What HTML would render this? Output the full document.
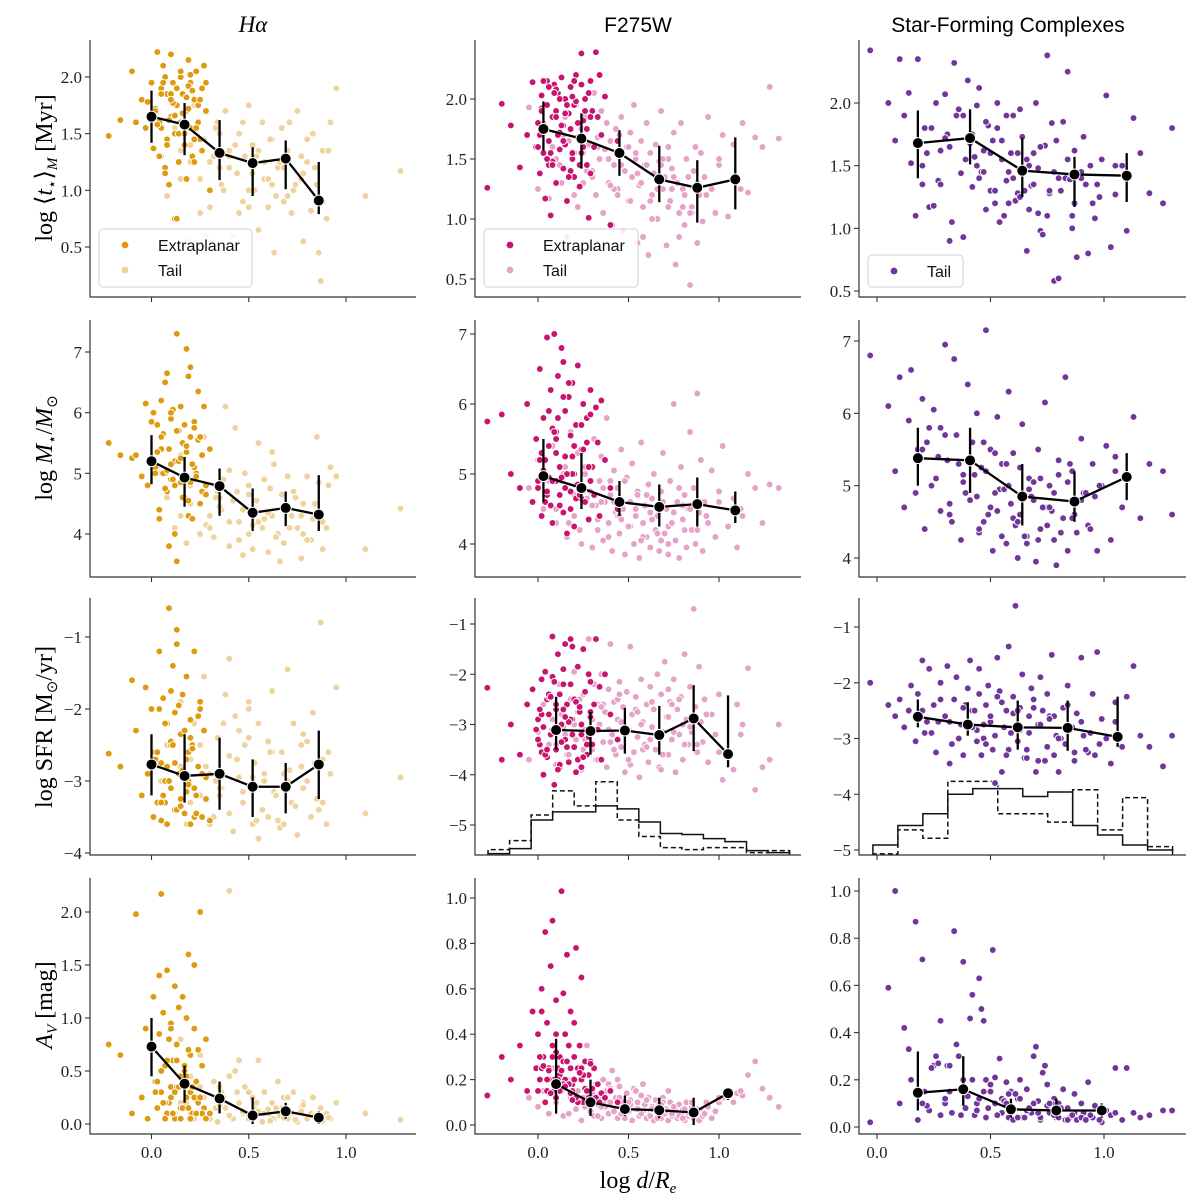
<!DOCTYPE html>
<html><head><meta charset="utf-8"><style>
body{margin:0;background:#fff}
svg{display:block}
.tk{font-family:"Liberation Serif",serif;font-size:17px;fill:#222}
.lg{font-family:"Liberation Sans",sans-serif;font-size:16px;fill:#111}
</style></head><body>
<svg id="fig" width="1200" height="1200" viewBox="0 0 1200 1200" xmlns="http://www.w3.org/2000/svg">
<text x="253" y="32" text-anchor="middle" font-family="Liberation Serif,serif" font-size="23" font-style="italic">Hα</text>
<text x="638" y="32" text-anchor="middle" font-family="Liberation Sans,sans-serif" font-size="21">F275W</text>
<text x="1008" y="32" text-anchor="middle" font-family="Liberation Sans,sans-serif" font-size="21">Star-Forming Complexes</text>
<text transform="translate(52,168) rotate(-90)" text-anchor="middle" font-family="Liberation Serif,serif" font-size="24">log ⟨<tspan font-style="italic">t</tspan><tspan font-size="15" dy="5">⋆</tspan><tspan dy="-5">⟩</tspan><tspan font-size="15" dy="5" font-style="italic">M</tspan><tspan dy="-5"> [Myr]</tspan></text>
<text transform="translate(52,448) rotate(-90)" text-anchor="middle" font-family="Liberation Serif,serif" font-size="24">log <tspan font-style="italic">M</tspan><tspan font-size="15" dy="5">⋆</tspan><tspan dy="-5">/</tspan><tspan font-style="italic">M</tspan><tspan font-size="15" dy="5">⊙</tspan></text>
<text transform="translate(52,727) rotate(-90)" text-anchor="middle" font-family="Liberation Serif,serif" font-size="24">log SFR [M<tspan font-size="15" dy="5">⊙</tspan><tspan dy="-5">/yr]</tspan></text>
<text transform="translate(52,1005) rotate(-90)" text-anchor="middle" font-family="Liberation Serif,serif" font-size="24"><tspan font-style="italic">A</tspan><tspan font-size="15" dy="5" font-style="italic">V</tspan><tspan dy="-5"> [mag]</tspan></text>
<text x="638" y="1188" text-anchor="middle" font-family="Liberation Serif,serif" font-size="24">log <tspan font-style="italic">d</tspan>/<tspan font-style="italic">R</tspan><tspan font-size="15" dy="5" font-style="italic">e</tspan></text>
</svg>
<script>
// ---- data: column 1 (Halpha) ----
const c1ExtX=[-0.22,-0.16,-0.1,-0.08,-0.05,-0.03,-0.02,0.0,0.01,0.02,0.03,0.04,0.05,0.05,0.06,0.07,0.08,0.08,0.09,0.1,0.1,0.11,0.12,0.12,0.13,0.14,0.15,0.15,0.16,0.17,0.18,0.18,0.19,0.2,0.2,0.21,0.22,0.23,0.24,0.25,0.26,0.27,0.28,0.3,0.04,0.07,0.13,0.19,0.22,0.1];
const c1ExtR1=[1.48,1.62,2.05,1.6,1.8,1.55,1.78,1.95,1.37,1.72,2.22,1.3,1.9,1.55,2.1,1.2,1.85,1.45,1.05,2.2,1.65,1.95,0.75,1.5,1.75,1.25,2.0,1.6,1.85,1.4,1.1,1.7,2.15,1.55,1.95,1.3,1.8,2.05,1.6,1.45,1.9,2.1,1.7,1.0,1.6,1.15,0.75,1.92,1.25,1.85];
const c1ExtR2=[5.5,5.3,5.25,5.3,4.95,6.15,4.8,5.85,6.0,5.1,5.8,4.25,6.2,5.4,5.65,6.5,4.7,6.65,3.8,5.9,4.9,6.05,4.0,5.2,7.3,5.7,4.85,6.1,5.5,4.6,5.35,7.05,4.3,5.6,6.75,4.25,5.85,5.0,6.35,4.5,5.3,6.1,4.8,5.4,4.4,5.0,3.55,6.6,5.75,5.15];
const c1ExtR3=[-2.62,-2.8,-1.6,-2.3,-3.2,-1.7,-2.9,-2.0,-3.5,-2.6,-3.3,-1.2,-2.75,-3.55,-1.85,-3.0,-2.2,-3.6,-0.6,-2.5,-3.1,-1.4,-3.4,-2.05,-1.1,-2.9,-3.25,-2.35,-1.8,-3.45,-2.7,-1.55,-3.0,-2.15,-3.6,-2.5,-1.2,-3.2,-2.8,-1.9,-3.5,-2.3,-2.95,-3.55,-2.0,-3.3,-0.9,-2.6,-3.1,-2.45];
const c1ExtR4=[0.75,0.65,0.1,1.98,0.25,0.9,0.05,0.7,1.2,0.4,0.15,0.85,2.17,0.3,1.05,0.55,0.1,1.45,0.2,0.95,0.35,0.6,1.3,0.05,0.75,1.1,0.45,0.15,1.2,0.5,0.25,1.0,1.6,0.3,0.65,0.1,0.9,0.4,0.2,2.0,0.55,0.15,0.8,0.1,1.4,0.05,0.35,0.7,1.5,0.25];
const c1ExtX2=[0.02,0.05,0.07,0.09,0.11,0.13,0.14,0.16,0.18,0.2,0.22,0.24,0.26,0.03,0.06,0.1,0.12,0.15,0.17,0.19,0.21,0.23,0.25,0.08,0.28];
const c1ExtR1_2=[1.7,1.85,2.0,1.62,1.77,1.9,1.5,1.68,1.82,2.02,1.45,1.75,1.35,1.58,1.95,1.8,1.66,2.05,1.5,1.72,1.88,1.55,1.8,1.4,1.95];
const c1ExtR2_2=[5.0,5.6,4.75,5.4,4.9,5.7,5.2,4.6,5.45,4.85,5.1,5.55,4.7,5.35,5.0,6.0,4.8,5.25,5.8,4.55,5.15,4.95,5.6,5.05,4.65];
const c1ExtR3_2=[-2.7,-3.3,-2.2,-3.0,-2.5,-3.4,-1.95,-2.85,-3.15,-2.4,-3.5,-2.1,-2.9,-2.6,-3.2,-1.75,-2.75,-3.35,-2.3,-3.05,-2.55,-3.45,-2.0,-2.8,-3.25];
const c1ExtR4_2=[0.3,0.5,0.2,0.8,0.1,0.6,0.35,0.15,0.45,0.05,0.25,0.7,0.1,0.4,0.2,0.9,0.3,0.05,0.55,0.15,0.35,0.1,0.25,0.6,0.05];
const c1TailX=[0.05,0.08,0.12,0.15,0.18,0.2,0.22,0.25,0.27,0.3,0.32,0.34,0.36,0.38,0.4,0.42,0.43,0.45,0.47,0.48,0.5,0.52,0.53,0.55,0.57,0.58,0.6,0.62,0.63,0.65,0.67,0.68,0.7,0.72,0.73,0.75,0.77,0.78,0.8,0.82,0.83,0.85,0.87,0.88,0.9,0.92,0.95,1.1,1.28,0.28,0.35,0.45,0.55,0.62,0.7,0.78,0.86,0.4,0.5,0.66];
const c1TailR1=[1.3,0.95,1.55,1.35,0.55,1.25,1.75,1.1,1.45,0.85,1.3,1.6,1.05,1.7,1.2,0.6,1.4,1.5,0.9,1.3,1.75,1.15,1.0,0.65,1.6,1.25,0.85,1.45,0.45,1.2,1.55,0.9,1.35,0.8,1.0,1.7,1.1,0.55,1.25,0.82,1.5,1.05,0.2,1.35,0.75,1.6,1.9,0.95,1.17,0.6,1.2,0.8,1.35,1.05,0.95,1.15,0.45,1.3,1.0,1.25];
const c1TailR2=[5.0,4.6,4.1,5.3,3.85,4.5,4.9,4.0,5.6,4.3,3.95,4.7,4.4,6.1,3.8,4.55,5.75,4.2,3.65,5.0,4.8,3.75,4.4,5.5,4.1,4.9,3.7,4.3,5.15,4.0,4.65,3.85,4.95,4.3,4.7,4.1,3.6,4.5,4.95,3.9,4.25,5.6,4.35,3.75,4.1,5.1,4.95,3.75,4.42,4.15,4.6,3.9,4.2,5.35,4.45,4.0,4.85,5.05,4.65,3.55];
const c1TailR3=[-3.0,-2.5,-3.4,-1.9,-3.6,-2.7,-2.2,-3.2,-1.55,-2.9,-3.5,-2.4,-3.1,-1.8,-2.65,-3.7,-2.1,-2.95,-3.3,-2.5,-1.9,-3.6,-2.75,-2.2,-3.4,-3.0,-2.45,-1.75,-3.15,-3.55,-2.6,-2.9,-1.45,-3.3,-2.2,-3.75,-2.8,-3.1,-2.45,-3.5,-2.05,-3.25,-0.8,-2.7,-3.6,-2.9,-1.7,-3.45,-2.95,-2.8,-3.2,-2.3,-3.8,-2.6,-3.0,-2.35,-3.4,-1.3,-2.0,-3.65];
const c1TailR4=[0.3,0.55,0.1,0.8,0.2,0.45,0.05,0.65,0.25,0.1,0.4,0.02,0.3,0.15,2.2,0.05,0.5,0.2,0.1,0.35,0.05,0.25,0.15,0.6,0.02,0.3,0.1,0.2,0.05,0.4,0.15,0.25,0.05,0.1,0.3,0.02,0.15,0.2,0.05,0.1,0.25,0.08,0.15,0.02,0.1,0.05,0.2,0.1,0.04,0.8,0.35,0.6,0.12,0.05,0.25,0.18,0.07,0.45,0.3,0.08];
const c1TailX2=[0.15,0.2,0.25,0.3,0.33,0.37,0.4,0.44,0.47,0.5,0.54,0.58,0.61,0.64,0.68,0.71,0.74,0.77,0.8,0.84,0.88,0.91,0.35,0.52,0.6];
const c1TailR1_2=[1.1,1.4,0.8,1.25,1.55,1.0,1.35,1.15,1.6,0.85,1.3,1.1,1.45,0.95,1.2,1.6,1.05,1.3,1.45,1.2,0.9,1.35,1.5,1.4,1.1];
const c1TailR2_2=[4.3,4.8,4.5,4.1,4.6,4.9,4.2,4.7,4.4,4.0,4.55,4.25,4.75,3.95,4.4,4.1,4.6,4.3,3.9,4.5,4.2,4.8,4.45,4.15,4.35];
const c1TailR3_2=[-2.8,-3.3,-2.5,-3.6,-3.0,-2.2,-3.45,-2.7,-3.15,-2.4,-3.55,-2.9,-2.6,-3.2,-3.6,-2.85,-3.35,-2.5,-3.0,-2.75,-3.3,-2.6,-3.1,-2.95,-3.5];
const c1TailR4_2=[0.2,0.1,0.35,0.05,0.15,0.25,0.08,0.3,0.12,0.05,0.2,0.1,0.03,0.15,0.06,0.1,0.04,0.12,0.05,0.08,0.03,0.06,0.18,0.1,0.14];
// ---- data: column 2 (F275W) ----
const c2ExtX=[-0.28,-0.2,-0.15,-0.1,-0.06,-0.03,-0.01,0.0,0.01,0.02,0.03,0.04,0.05,0.05,0.06,0.07,0.08,0.08,0.09,0.1,0.1,0.11,0.12,0.12,0.13,0.14,0.15,0.15,0.16,0.17,0.18,0.18,0.19,0.2,0.2,0.21,0.22,0.23,0.24,0.25,0.26,0.27,0.28,0.29,0.3,0.31,0.32,0.33,0.34,0.35,0.37,0.4,0.44,0.02,0.06,0.1,0.14,0.19,0.24,0.29];
const c2ExtR1=[1.26,1.96,1.78,1.43,1.7,2.14,1.6,1.8,1.38,2.03,1.55,1.17,2.15,1.95,1.65,1.03,1.85,1.48,2.12,1.9,1.3,2.05,1.72,1.58,2.18,1.42,2.0,1.62,1.15,1.88,2.1,1.75,1.5,1.95,1.35,2.2,1.68,1.27,2.38,1.82,2.0,1.45,1.01,2.15,1.9,1.6,2.39,1.85,2.2,1.7,2.02,0.95,1.65,1.92,1.45,2.08,1.78,1.55,2.12,1.38];
const c2ExtR2=[5.75,5.85,5.0,4.8,6.0,4.6,5.5,4.9,6.5,4.4,5.8,5.2,6.95,4.7,5.4,6.2,4.3,5.65,7.0,4.9,5.3,6.4,4.55,5.1,6.8,4.45,5.9,5.25,4.15,6.1,5.55,4.75,6.3,5.0,4.25,5.7,6.55,4.85,5.35,6.0,4.6,5.8,4.35,6.2,5.1,4.7,5.95,5.45,4.4,6.05,5.2,4.8,4.5,5.3,4.95,5.6,6.6,5.0,4.65,5.85];
const c2ExtR3=[-2.27,-3.7,-3.0,-3.6,-2.6,-2.3,-3.1,-2.9,-3.4,-2.1,-4.0,-1.95,-2.5,-3.65,-2.8,-3.2,-1.25,-2.05,-4.2,-2.7,-3.5,-1.6,-3.85,-2.4,-3.0,-1.9,-3.3,-1.4,-2.6,-3.75,-2.2,-1.3,-2.9,-3.45,-2.5,-3.95,-1.85,-2.75,-3.2,-1.5,-2.35,-3.6,-2.0,-2.85,-3.4,-2.6,-1.3,-3.1,-2.25,-3.7,-2.0,-2.8,-3.3,-3.55,-2.45,-3.05,-2.7,-1.45,-3.85,-2.15];
const c2ExtR4=[0.13,0.3,0.2,0.35,0.15,0.5,0.25,0.4,0.2,0.6,0.3,0.85,0.15,0.45,0.25,0.7,0.35,0.9,0.2,0.4,0.55,0.25,0.3,0.15,1.03,0.28,0.4,0.2,0.75,0.35,0.5,0.25,0.15,0.45,0.3,0.78,0.25,0.35,0.2,0.1,0.28,0.15,0.22,0.28,0.16,0.25,0.12,0.18,0.1,0.14,0.12,0.15,0.1,0.5,0.24,0.32,0.58,0.18,0.65,0.27];
const c2ExtX2=[0.0,0.02,0.04,0.06,0.08,0.1,0.12,0.14,0.16,0.18,0.2,0.22,0.24,0.26,0.28,0.01,0.05,0.09,0.13,0.17,0.21,0.25,0.29,0.03,0.07,0.11,0.15,0.19,0.23,0.27];
const c2ExtR1_2=[1.6,1.9,1.75,2.1,1.45,1.85,2.0,1.65,1.95,1.4,2.15,1.8,1.55,1.9,2.05,1.7,1.5,2.05,1.78,1.35,1.98,1.6,1.85,2.15,1.55,1.7,1.88,2.02,1.45,1.75];
const c2ExtR2_2=[4.8,5.3,4.6,5.9,4.9,5.5,4.7,6.1,5.0,4.5,5.4,4.85,5.7,4.6,5.1,5.2,4.75,5.6,4.95,6.3,4.65,5.35,4.9,5.05,4.55,5.8,4.8,5.25,4.7,5.45];
const c2ExtR3_2=[-3.3,-2.8,-3.6,-2.4,-3.1,-2.6,-3.8,-2.2,-3.45,-2.9,-2.5,-3.7,-3.0,-2.35,-3.25,-2.7,-3.5,-2.15,-3.35,-2.95,-2.55,-3.65,-2.75,-3.05,-2.45,-3.9,-2.85,-3.2,-2.65,-3.4];
const c2ExtR4_2=[0.15,0.25,0.1,0.2,0.3,0.12,0.22,0.18,0.28,0.14,0.2,0.1,0.25,0.16,0.12,0.3,0.2,0.15,0.24,0.18,0.12,0.22,0.1,0.26,0.14,0.2,0.17,0.11,0.23,0.15];
const c2TailX=[-0.05,0.0,0.03,0.06,0.08,0.1,0.12,0.14,0.16,0.18,0.2,0.21,0.22,0.24,0.25,0.26,0.28,0.29,0.3,0.31,0.32,0.33,0.34,0.35,0.36,0.37,0.38,0.39,0.4,0.41,0.42,0.43,0.44,0.45,0.46,0.47,0.48,0.49,0.5,0.51,0.52,0.53,0.54,0.55,0.56,0.57,0.58,0.59,0.6,0.61,0.62,0.63,0.64,0.65,0.66,0.67,0.68,0.69,0.7,0.71,0.72,0.73,0.74,0.75,0.76,0.77,0.78,0.79,0.8,0.81,0.82,0.83,0.84,0.85,0.86,0.87,0.88,0.89,0.9,0.91,0.92,0.94,0.96,0.98,1.0,1.02,1.05,1.08,1.1,1.13,1.16,1.2,1.24,1.28,1.33,0.27,0.44,0.58,0.72,0.85];
const c2TailR1=[1.93,1.25,1.8,1.17,1.6,1.9,1.45,1.7,0.85,1.35,1.55,1.95,1.1,1.75,1.3,1.85,1.62,0.75,1.4,2.05,1.2,1.68,1.5,1.9,1.05,1.58,1.8,1.3,1.65,0.95,1.45,1.75,1.25,1.55,1.85,0.9,1.4,1.6,1.15,1.72,1.35,1.95,1.5,0.8,1.28,1.65,1.1,1.45,1.8,0.7,1.55,1.2,1.38,1.62,1.0,1.48,1.9,1.25,1.35,0.78,1.6,1.15,1.42,1.72,0.62,1.3,1.05,1.8,1.25,0.95,1.5,1.35,0.45,1.1,1.4,1.6,0.8,1.2,1.55,0.98,1.35,1.85,1.25,1.05,1.45,1.7,1.02,1.62,1.35,1.8,1.22,1.68,1.6,2.1,1.67,1.4,1.2,0.85,1.5,1.05];
const c2TailR2=[4.8,5.2,4.5,4.9,5.4,4.3,4.7,5.0,4.1,5.6,4.4,4.85,5.3,4.0,4.65,5.1,4.35,4.75,3.95,5.5,4.55,4.2,4.9,5.25,4.05,4.6,5.8,4.3,4.7,3.9,5.05,4.45,4.8,4.15,5.35,4.5,3.85,4.95,4.25,4.6,5.15,4.0,4.4,4.75,3.8,5.45,4.3,4.55,4.1,4.85,3.95,4.65,5.0,4.2,4.4,3.9,4.75,5.3,4.15,4.5,3.85,4.9,4.3,6.0,4.05,4.6,3.8,5.1,4.35,4.7,3.95,4.5,5.6,4.2,4.8,4.0,6.15,4.45,5.2,3.9,4.6,4.3,5.05,4.1,4.75,5.4,4.25,4.65,3.95,4.4,5.0,4.8,4.3,4.85,4.8,4.65,4.4,4.1,4.25,4.55];
const c2TailR3=[-3.7,-3.15,-2.6,-3.4,-2.9,-3.8,-2.2,-3.05,-3.6,-2.5,-1.95,-3.3,-2.75,-3.9,-2.4,-3.1,-1.3,-2.8,-3.5,-2.2,-3.7,-2.6,-3.0,-2.0,-3.35,-2.75,-3.85,-2.3,-1.4,-3.2,-2.55,-3.6,-2.9,-2.15,-3.45,-2.65,-3.95,-2.35,-3.1,-1.45,-2.8,-3.55,-2.45,-3.25,-4.05,-2.1,-2.95,-3.4,-2.6,-3.75,-2.25,-3.05,-2.7,-3.5,-2.0,-3.85,-2.4,-3.15,-1.75,-2.85,-3.6,-2.55,-3.3,-2.1,-3.95,-2.7,-3.2,-2.45,-3.7,-1.6,-2.9,-3.4,-2.25,-3.1,-0.7,-2.65,-3.55,-1.85,-2.95,-3.35,-2.5,-3.75,-2.8,-3.2,-2.4,-4.1,-3.6,-3.9,-2.6,-3.0,-1.88,-4.3,-3.85,-3.7,-3.0,-3.3,-2.5,-3.5,-2.3,-3.15];
const c2TailR4=[0.12,0.08,0.15,0.05,0.25,0.1,0.18,0.04,0.2,0.12,0.3,0.07,0.15,0.02,0.22,0.1,0.28,0.06,0.14,0.04,0.18,0.09,0.12,0.03,0.2,0.08,0.15,0.05,0.1,0.24,0.06,0.12,0.03,0.17,0.08,0.1,0.04,0.14,0.06,0.11,0.02,0.16,0.07,0.1,0.04,0.13,0.06,0.09,0.03,0.12,0.05,0.08,0.02,0.11,0.06,0.09,0.03,0.12,0.05,0.07,0.02,0.1,0.04,0.08,0.06,0.03,0.09,0.05,0.07,0.02,0.1,0.04,0.06,0.08,0.03,0.05,0.07,0.02,0.06,0.04,0.05,0.08,0.03,0.06,0.1,0.12,0.15,0.1,0.14,0.13,0.22,0.28,0.16,0.12,0.08,0.35,0.2,0.18,0.15,0.1];
const c2TailX2=[0.1,0.13,0.17,0.2,0.23,0.26,0.3,0.33,0.36,0.39,0.42,0.45,0.48,0.51,0.54,0.57,0.6,0.63,0.66,0.69,0.72,0.75,0.78,0.81,0.84,0.15,0.25,0.35,0.4,0.46,0.5,0.55,0.62,0.68,0.74,0.8,0.88,0.93,1.0,1.12];
const c2TailR1_2=[1.5,1.3,1.65,1.2,1.45,1.75,1.35,1.6,1.05,1.5,1.25,1.7,1.4,1.15,1.55,1.3,1.45,1.0,1.25,1.5,1.1,1.35,0.85,1.2,1.05,1.85,1.55,1.7,1.28,1.45,1.6,1.38,1.15,1.45,1.25,1.1,1.3,1.2,1.5,1.25];
const c2TailR2_2=[4.5,4.9,4.3,4.7,4.2,5.0,4.55,4.35,4.8,4.1,4.6,4.4,4.9,4.25,4.5,4.05,4.7,4.35,4.15,4.6,4.0,4.45,4.8,4.2,4.5,5.1,4.75,4.6,4.9,4.35,4.25,4.7,4.45,4.05,4.3,4.55,4.2,4.4,4.6,4.5];
const c2TailR3_2=[-3.4,-2.8,-3.6,-3.0,-2.5,-3.3,-2.9,-3.7,-2.6,-3.1,-3.5,-2.4,-3.2,-3.8,-2.7,-3.0,-3.45,-2.55,-3.25,-3.6,-2.85,-3.15,-2.5,-3.4,-3.05,-3.2,-3.5,-2.65,-3.35,-2.95,-3.7,-2.75,-3.3,-3.9,-2.6,-3.0,-3.4,-2.8,-3.55,-3.2];
const c2TailR4_2=[0.1,0.15,0.05,0.12,0.2,0.08,0.14,0.04,0.1,0.18,0.06,0.12,0.03,0.09,0.15,0.05,0.11,0.07,0.03,0.1,0.06,0.08,0.04,0.07,0.05,0.2,0.12,0.08,0.16,0.05,0.1,0.07,0.04,0.09,0.05,0.03,0.06,0.1,0.12,0.15];
// ---- data: column 3 (star-forming complexes) ----
const c3TailX=[-0.03,0.05,0.08,0.1,0.12,0.14,0.15,0.17,0.18,0.2,0.21,0.23,0.25,0.26,0.28,0.3,0.31,0.33,0.34,0.35,0.37,0.38,0.4,0.41,0.42,0.44,0.45,0.46,0.48,0.49,0.5,0.51,0.53,0.54,0.55,0.57,0.58,0.59,0.6,0.62,0.63,0.64,0.66,0.67,0.68,0.7,0.71,0.72,0.74,0.75,0.76,0.78,0.79,0.8,0.82,0.83,0.84,0.86,0.87,0.88,0.9,0.91,0.93,0.95,0.97,0.99,1.01,1.03,1.05,1.08,1.1,1.13,1.16,1.2,1.26,1.3,0.22,0.32,0.43,0.52,0.61,0.69,0.77,0.85,0.96,0.27,0.47,0.56,0.65,0.73];
const c3TailR1=[2.42,2.0,1.7,2.35,1.9,2.08,1.52,1.1,2.35,1.35,1.8,1.17,1.18,2.0,1.62,2.07,1.75,1.05,2.32,1.9,1.44,0.93,2.18,1.68,1.33,1.98,2.12,1.45,1.15,1.82,1.3,1.7,2.0,1.05,1.55,1.9,1.2,1.6,1.4,1.28,1.95,1.73,0.82,1.5,1.34,2.0,1.12,0.98,1.66,2.38,1.28,0.58,1.7,0.6,1.85,1.4,2.25,1.0,1.62,0.77,1.45,1.73,0.8,1.2,1.35,1.55,2.06,0.85,1.27,1.5,0.98,1.88,1.6,1.28,1.2,1.8,1.6,0.9,1.57,1.2,1.22,1.6,1.84,1.39,1.08,1.38,1.45,1.1,1.3,0.95];
const c3TailR2=[6.8,6.1,5.2,6.5,4.7,5.9,6.6,4.9,5.5,6.2,4.4,5.8,6.05,5.1,4.65,6.95,5.35,4.5,6.75,5.7,4.25,5.05,6.4,4.8,5.6,6.0,4.35,5.25,7.15,4.6,5.5,4.1,5.95,4.95,5.3,4.2,6.3,4.75,5.45,4.0,4.6,5.85,4.3,5.1,4.85,3.95,5.5,4.4,6.15,4.7,5.0,4.25,3.9,5.35,4.55,6.5,4.1,5.2,4.8,4.35,5.65,4.9,4.45,5.3,4.1,5.0,5.55,4.25,5.4,4.7,5.1,5.95,4.55,5.3,5.2,4.6,5.6,4.75,5.15,4.9,4.45,5.05,4.65,5.3,4.85,5.4,4.5,4.95,4.3,4.7];
const c3TailR3=[-2.0,-2.4,-2.6,-2.3,-2.8,-2.5,-2.05,-3.05,-2.2,-1.6,-2.9,-1.75,-2.4,-3.25,-2.0,-2.65,-1.7,-3.1,-2.3,-1.9,-2.75,-3.3,-2.1,-1.6,-2.5,-2.85,-1.75,-3.3,-2.4,-2.05,-2.7,-3.2,-1.55,-2.15,-3.6,-2.5,-1.35,-2.9,-2.25,-3.05,-2.45,-1.85,-3.2,-2.6,-2.1,-3.6,-2.75,-1.9,-3.4,-2.2,-2.6,-3.3,-2.95,-3.6,-2.45,-3.1,-2.05,-2.8,-3.4,-2.55,-1.55,-2.95,-3.25,-2.2,-1.45,-2.65,-3.0,-3.45,-2.35,-3.15,-2.25,-1.7,-2.95,-3.15,-3.5,-2.95,-2.7,-3.45,-2.5,-3.8,-0.62,-2.3,-1.5,-2.85,-3.3,-2.7,-3.0,-2.8,-3.35,-2.5];
const c3TailR4=[0.02,0.59,1.0,0.1,0.42,0.33,0.2,0.87,0.03,0.71,0.15,0.07,0.26,0.3,0.45,0.1,0.26,0.06,0.83,0.35,0.05,0.7,0.13,0.46,0.56,0.1,0.63,0.5,0.2,0.08,0.15,0.75,0.05,0.29,0.12,0.19,0.04,0.15,0.07,0.12,0.2,0.04,0.16,0.08,0.06,0.34,0.11,0.03,0.26,0.18,0.06,0.12,0.04,0.1,0.16,0.03,0.08,0.05,0.14,0.03,0.1,0.06,0.19,0.04,0.08,0.02,0.07,0.05,0.25,0.03,0.25,0.06,0.04,0.05,0.07,0.07,0.09,0.26,0.05,0.21,0.14,0.3,0.1,0.04,0.09,0.27,0.45,0.11,0.04,0.23];
const c3TailX2=[0.2,0.24,0.28,0.32,0.36,0.39,0.42,0.45,0.48,0.5,0.52,0.55,0.58,0.6,0.63,0.66,0.69,0.72,0.75,0.78,0.81,0.84,0.87,0.9,0.94,0.98,0.3,0.38,0.44,0.47,0.53,0.57,0.62,0.67,0.71,0.76,0.8,0.86,0.92,1.05];
const c3TailR1_2=[1.5,1.8,1.35,1.65,1.95,1.55,1.75,1.4,1.85,1.6,1.3,1.7,1.45,1.9,1.25,1.55,1.35,1.65,1.1,1.45,1.3,1.55,1.2,1.4,1.5,1.25,1.72,1.9,1.5,1.62,1.8,1.38,1.6,1.15,1.48,1.3,1.4,1.1,1.35,1.5];
const c3TailR2_2=[5.5,5.0,5.8,4.6,5.3,4.9,5.6,4.4,5.2,4.7,5.45,4.3,5.0,4.55,5.25,4.2,4.8,5.1,4.45,4.9,4.35,5.05,4.6,4.8,4.4,5.0,5.7,5.15,4.85,5.6,4.65,5.3,4.5,4.95,4.25,4.7,5.15,4.55,4.9,5.2];
const c3TailR3_2=[-2.5,-2.9,-2.3,-2.7,-3.0,-2.4,-2.8,-2.2,-3.1,-2.6,-2.95,-2.35,-3.2,-2.55,-2.85,-3.35,-2.45,-2.75,-3.15,-2.6,-3.0,-2.4,-3.25,-2.7,-2.9,-3.1,-2.6,-2.45,-3.05,-2.75,-2.25,-3.3,-2.5,-2.9,-3.4,-2.65,-3.0,-2.8,-3.2,-2.7];
const c3TailR4_2=[0.1,0.25,0.05,0.15,0.3,0.08,0.2,0.12,0.04,0.18,0.1,0.06,0.14,0.03,0.12,0.07,0.1,0.04,0.09,0.05,0.08,0.03,0.06,0.04,0.05,0.03,0.12,0.2,0.07,0.15,0.05,0.1,0.04,0.08,0.06,0.1,0.04,0.05,0.03,0.06];
// ---- binned medians ----
const medX1=[0.0,0.17,0.35,0.52,0.69,0.86];
const medX2a=[0.03,0.24,0.45,0.67,0.88,1.09];
const medX2b=[0.10,0.29,0.48,0.67,0.86,1.05];
const medX3a=[0.18,0.41,0.64,0.87,1.10];
const medX3b=[0.18,0.40,0.62,0.84,1.06];
const medX3c=[0.18,0.38,0.59,0.79,0.99];
const medR1C1=[1.65,1.58,1.33,1.24,1.28,0.91], loR1C1=[1.42,1.31,1.09,0.95,1.01,0.79], hiR1C1=[1.88,1.77,1.62,1.38,1.44,1.25];
const medR2C1=[5.2,4.93,4.79,4.35,4.43,4.32], loR2C1=[4.82,4.45,4.3,4.05,4.13,4.05], hiR2C1=[5.63,5.27,5.08,4.75,4.7,4.97];
const medR3C1=[-2.77,-2.93,-2.9,-3.08,-3.08,-2.77], loR3C1=[-3.2,-3.3,-3.4,-3.5,-3.45,-3.25], hiR3C1=[-2.35,-2.35,-2.4,-2.7,-2.75,-2.3];
const medR4C1=[0.73,0.38,0.24,0.08,0.12,0.06], loR4C1=[0.45,0.2,0.1,0.0,0.05,0.0], hiR4C1=[1.0,0.55,0.4,0.25,0.2,0.12];
const medR1C2=[1.75,1.67,1.55,1.33,1.26,1.33], loR1C2=[1.57,1.42,1.36,1.14,0.97,1.08], hiR1C2=[1.98,1.88,1.74,1.61,1.49,1.68];
const medR2C2=[4.97,4.8,4.6,4.53,4.57,4.48], loR2C2=[4.6,4.5,4.4,4.25,4.25,4.3], hiR2C2=[5.5,5.3,4.9,4.85,4.95,4.75];
const medR3C2=[-3.11,-3.13,-3.12,-3.21,-2.88,-3.59], loR3C2=[-3.5,-3.6,-3.58,-3.6,-3.53,-3.85], hiR3C2=[-2.45,-2.75,-2.67,-2.63,-2.22,-2.42];
const medR4C2=[0.18,0.1,0.07,0.065,0.055,0.14], loR4C2=[0.05,0.04,0.04,0.03,0.0,0.11], hiR4C2=[0.38,0.2,0.13,0.12,0.12,0.16];
const medR1C3=[1.68,1.72,1.46,1.43,1.42], loR1C3=[1.4,1.51,1.25,1.17,1.21], hiR1C3=[1.94,1.95,1.72,1.57,1.6];
const medR2C3=[5.38,5.35,4.85,4.78,5.12], loR2C3=[5.0,4.9,4.45,4.5,4.8], hiR2C3=[5.8,5.8,5.3,5.2,5.45];
const medR3C3=[-2.61,-2.75,-2.8,-2.81,-2.97], loR3C3=[-2.8,-2.95,-3.2,-3.22,-3.15], hiR3C3=[-2.3,-2.35,-2.32,-2.32,-2.25];
const medR4C3=[0.145,0.16,0.075,0.07,0.07], loR4C3=[0.07,0.09,0.04,0.04,0.04], hiR4C3=[0.32,0.3,0.12,0.12,0.1];
// ---- histograms (in log SFR axis units) ----
const histStart2=-0.276, histW2=0.119;
const histSolid2=[-5.57,-5.47,-4.90,-4.74,-4.74,-4.62,-4.68,-4.94,-5.17,-5.19,-5.27,-5.33,-5.51,-5.55];
const histDash2=[-5.49,-5.31,-4.80,-4.32,-4.62,-4.14,-4.90,-5.23,-5.45,-5.49,-5.45,-5.45,-5.55,-5.51];
const histStart3=-0.018, histW3=0.11;
const histSolid3=[-4.91,-4.56,-4.35,-4.0,-3.90,-3.90,-4.04,-3.96,-4.56,-4.73,-4.91,-5.0];
const histDash3=[-5.07,-4.64,-4.79,-3.77,-3.77,-4.35,-4.35,-4.50,-3.92,-4.64,-4.06,-4.94];
// ---- ticks ----
const xTicks=[0,0.5,1.0], xTickLabels=["0.0","0.5","1.0"];
const tAge=[0.5,1.0,1.5,2.0], tAgeL=["0.5","1.0","1.5","2.0"];
const tMass=[4,5,6,7], tMassL=["4","5","6","7"];
const tSfr1=[-4,-3,-2,-1], tSfr1L=["−4","−3","−2","−1"];
const tSfr2=[-5,-4,-3,-2,-1], tSfr2L=["−5","−4","−3","−2","−1"];
const tAv1=[0,0.5,1.0,1.5,2.0], tAv1L=["0.0","0.5","1.0","1.5","2.0"];
const tAv2=[0,0.2,0.4,0.6,0.8,1.0], tAv2L=["0.0","0.2","0.4","0.6","0.8","1.0"];

const NS="http://www.w3.org/2000/svg";
const svg=document.getElementById('fig');
function mk(tag,attrs,parent){const e=document.createElementNS(NS,tag);for(const k in attrs)e.setAttribute(k,attrs[k]);(parent||svg).appendChild(e);return e;}
function lin(v1,p1,v2,p2){return v=>p1+(v-v1)*(p2-p1)/(v2-v1);}
const colX=[[90,416],[475,801],[859,1186]];
const rowY=[[40,297],[320,577],[598,855],[878,1134]];
const xs=[lin(0,151.5,1,346),lin(0,538,1,719),lin(0,877,1,1104)];
const ys=[
 [lin(2,77,0.5,247),lin(2,99,0.5,279),lin(2,103,0.5,291)],
 [lin(7,352,4,534),lin(7,334,4,544),lin(7,341,4,558)],
 [lin(-1,637,-4,853),lin(-1,624,-5,825),lin(-1,627,-5,850)],
 [lin(2,912,0,1124),lin(1,898,0,1125),lin(1,891,0,1127)]];
const yt=[[[tAge,tAgeL],[tAge,tAgeL],[tAge,tAgeL]],[[tMass,tMassL],[tMass,tMassL],[tMass,tMassL]],[[tSfr1,tSfr1L],[tSfr2,tSfr2L],[tSfr2,tSfr2L]],[[tAv1,tAv1L],[tAv2,tAv2L],[tAv2,tAv2L]]];
const C1E="#de9b10",C1T="#efd39c",C2E="#c8146f",C2T="#e6a2c7",C3="#70369a";
// each group: list of [xArray, [r1,r2,r3,r4]] chunks
const groups=[
 [[[[c1TailX,[c1TailR1,c1TailR2,c1TailR3,c1TailR4]],[c1TailX2,[c1TailR1_2,c1TailR2_2,c1TailR3_2,c1TailR4_2]]],C1T,'tail'],
  [[[c1ExtX,[c1ExtR1,c1ExtR2,c1ExtR3,c1ExtR4]],[c1ExtX2,[c1ExtR1_2,c1ExtR2_2,c1ExtR3_2,c1ExtR4_2]]],C1E,'extraplanar']],
 [[[[c2TailX,[c2TailR1,c2TailR2,c2TailR3,c2TailR4]],[c2TailX2,[c2TailR1_2,c2TailR2_2,c2TailR3_2,c2TailR4_2]]],C2T,'tail'],
  [[[c2ExtX,[c2ExtR1,c2ExtR2,c2ExtR3,c2ExtR4]],[c2ExtX2,[c2ExtR1_2,c2ExtR2_2,c2ExtR3_2,c2ExtR4_2]]],C2E,'extraplanar']],
 [[[[c3TailX,[c3TailR1,c3TailR2,c3TailR3,c3TailR4]],[c3TailX2,[c3TailR1_2,c3TailR2_2,c3TailR3_2,c3TailR4_2]]],C3,'tail']]];
const meds=[
 [[medX1,medR1C1,loR1C1,hiR1C1],[medX2a,medR1C2,loR1C2,hiR1C2],[medX3a,medR1C3,loR1C3,hiR1C3]],
 [[medX1,medR2C1,loR2C1,hiR2C1],[medX2a,medR2C2,loR2C2,hiR2C2],[medX3a,medR2C3,loR2C3,hiR2C3]],
 [[medX1,medR3C1,loR3C1,hiR3C1],[medX2b,medR3C2,loR3C2,hiR3C2],[medX3b,medR3C3,loR3C3,hiR3C3]],
 [[medX1,medR4C1,loR4C1,hiR4C1],[medX2b,medR4C2,loR4C2,hiR4C2],[medX3c,medR4C3,loR4C3,hiR4C3]]];

function hist(g,X,Y,start,w,vals,base,dash,name){
  let d='M'+X(start)+','+base;
  vals.forEach((v,i)=>{d+=' L'+X(start+i*w)+','+Y(v)+' L'+X(start+(i+1)*w)+','+Y(v);});
  d+=' L'+X(start+vals.length*w)+','+base;
  const p=mk('path',{d:d,fill:'none',stroke:'#111','stroke-width':1.5,'stroke-dasharray':dash?'5,3':'none'},g);
  
  
}

for(let r=0;r<4;r++)for(let c=0;c<3;c++){
  const g=mk('g',{});
  
  
  const X=xs[c],Y=ys[r][c];const [x0,x1]=colX[c];const [y0,y1]=rowY[r];
  if(r===2&&c===1){hist(g,X,Y,histStart2,histW2,histSolid2,y1,false,'hist-solid');hist(g,X,Y,histStart2,histW2,histDash2,y1,true,'hist-dashed');}
  if(r===2&&c===2){hist(g,X,Y,histStart3,histW3,histSolid3,y1,false,'hist-solid');hist(g,X,Y,histStart3,histW3,histDash3,y1,true,'hist-dashed');}
  groups[c].forEach(gr=>{
    gr[0].forEach(chunk=>{
      const xa=chunk[0],ya=chunk[1][r];const n=Math.min(xa.length,ya.length);
      for(let i=0;i<n;i++){
        const pt=mk('circle',{cx:X(xa[i]),cy:Y(ya[i]),r:3.4,fill:gr[1],stroke:'#fff','stroke-width':0.9},g);
        
        
      }
    });
  });
  const m=meds[r][c];
  m[0].forEach((xv,i)=>{
    const eb=mk('line',{x1:X(xv),x2:X(xv),y1:Y(m[2][i]),y2:Y(m[3][i]),stroke:'#000','stroke-width':2.3},g);
    
    
  });
  const pl=mk('polyline',{points:m[0].map((xv,i)=>X(xv)+','+Y(m[1][i])).join(' '),fill:'none',stroke:'#000','stroke-width':2.3},g);
  
  
  m[0].forEach((xv,i)=>{
    const mp=mk('circle',{cx:X(xv),cy:Y(m[1][i]),r:5.5,fill:'#000',stroke:'#fff','stroke-width':1},g);
    
    
  });
  const sp=mk('path',{d:'M'+x0+','+y0+' L'+x0+','+y1+' L'+x1+','+y1,fill:'none',stroke:'#333','stroke-width':1.2},g);
  
  
  xTicks.forEach((t,i)=>{
    const tk=mk('line',{x1:X(t),x2:X(t),y1:y1,y2:y1+5,stroke:'#333','stroke-width':1.1},g);
    
    
    if(r===3){const tl=mk('text',{x:X(t),y:y1+24,'text-anchor':'middle','class':'tk'},g);tl.textContent=xTickLabels[i];
      
      }
  });
  const [tv,tl]=yt[r][c];
  tv.forEach((t,i)=>{
    const tk=mk('line',{x1:x0-5,x2:x0,y1:Y(t),y2:Y(t),stroke:'#333','stroke-width':1.1},g);
    
    
    const lb=mk('text',{x:x0-8,y:Y(t)+6,'text-anchor':'end','class':'tk'},g);lb.textContent=tl[i];
    
    
  });
}
function legend(x,y,w,h,items,name){
  const g=mk('g',{});
  
  
  mk('rect',{x:x,y:y,width:w,height:h,rx:4,fill:'#fff','fill-opacity':0.8,stroke:'#d0d0d0','stroke-width':1},g);
  items.forEach((it,i)=>{
    const cy=y+16+i*25;
    const d=mk('circle',{cx:x+26,cy:cy,r:3.4,fill:it[1]},g);
    
    
    const t=mk('text',{x:x+59,y:cy+6,'class':'lg'},g);t.textContent=it[0];
    
    
  });
}
legend(99,229,153,58,[["Extraplanar",C1E],["Tail",C1T]],'legend-halpha');
legend(484,229,154,58,[["Extraplanar",C2E],["Tail",C2T]],'legend-f275w');
legend(868,255,95,32,[["Tail",C3]],'legend-sfc');
</script>
</body></html>
